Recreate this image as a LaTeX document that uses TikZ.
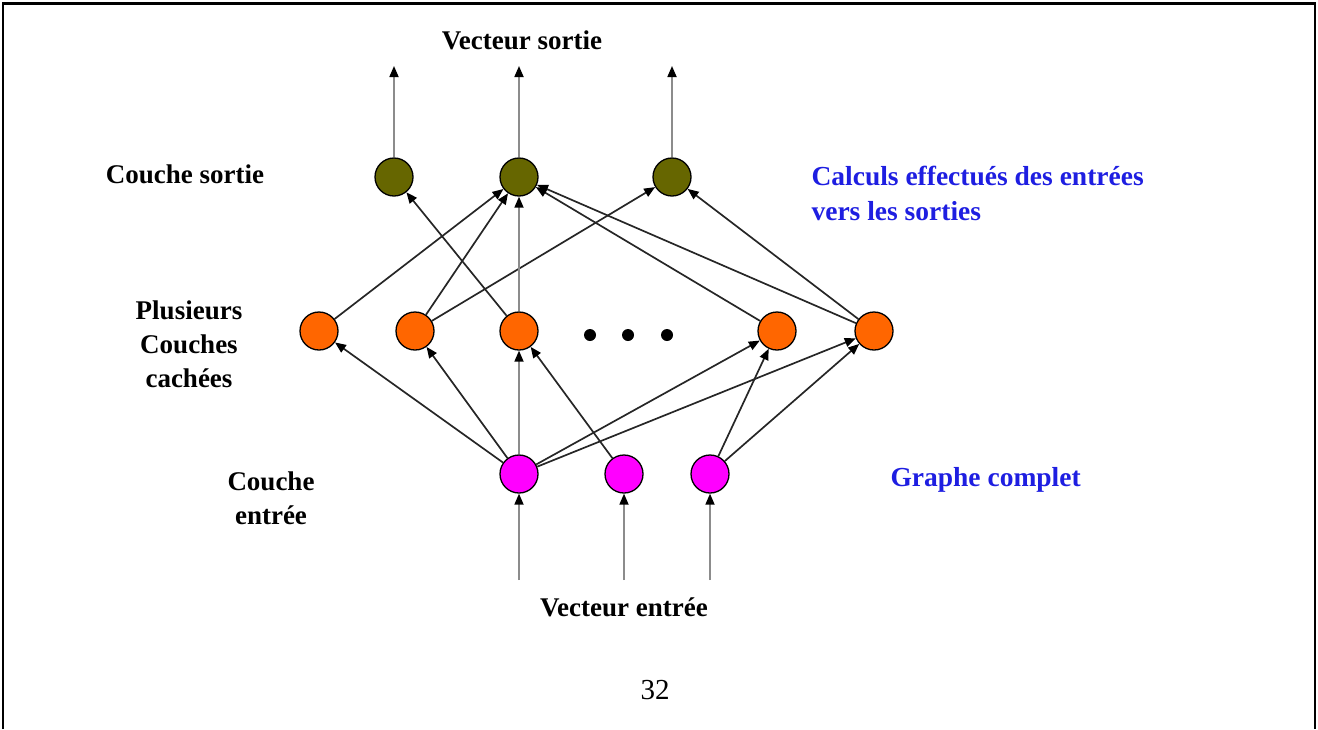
\documentclass[tikz,border=0pt]{standalone}
\usepackage{fontspec}
\setmainfont{Liberation Serif}
\usetikzlibrary{arrows.meta}
\definecolor{olivec}{RGB}{102,102,0}
\definecolor{orangec}{RGB}{255,102,0}
\definecolor{magc}{RGB}{255,0,255}
\definecolor{bluec}{RGB}{30,30,225}
\begin{document}
\begin{tikzpicture}[x=1pt,y=-1pt,
  neuron/.style={circle, draw=black, line width=1.3pt, minimum size=38pt, inner sep=0pt},
  outn/.style={neuron, fill=olivec},
  hidn/.style={neuron, fill=orangec},
  inn/.style={neuron, fill=magc},
  dotn/.style={circle, fill=black, minimum size=12pt, inner sep=0pt},
  conn/.style={line width=1.7pt, black!85, -{Triangle[length=11pt,width=9pt,color=black]}},
  vconn/.style={line width=1.7pt, black!45, -{Triangle[length=11pt,width=9pt,color=black]}},
  lab/.style={font=\fontsize{27}{34}\selectfont\bfseries, align=center},
  blab/.style={font=\fontsize{27.5}{35}\selectfont\bfseries, text=bluec, align=left, anchor=west}]
\useasboundingbox (0,0) rectangle (1318,729);
% frame
\draw[line width=2pt] (3,729) -- (3,3) -- (1315,3) -- (1315,729);
\draw[line width=3pt] (2,3) -- (1316,3);
% output layer
\node[outn] (o1) at (394,177) {};
\node[outn] (o2) at (519,177) {};
\node[outn] (o3) at (672,177) {};
% hidden layer
\node[hidn] (h1) at (319,331) {};
\node[hidn] (h2) at (415,331) {};
\node[hidn] (h3) at (519,331) {};
\node[hidn] (h4) at (777,331) {};
\node[hidn] (h5) at (874,331) {};
\node[dotn] (d1) at (590,335) {};
\node[dotn] (d2) at (628,335) {};
\node[dotn] (d3) at (667,335) {};
% input layer
\node[inn] (i1) at (519,474) {};
\node[inn] (i2) at (624,474) {};
\node[inn] (i3) at (710,474) {};
% free ends
\coordinate (t1) at (394,66);
\coordinate (t2) at (519,66);
\coordinate (t3) at (672,66);
\coordinate (b1) at (519,580);
\coordinate (b2) at (624,580);
\coordinate (b3) at (710,580);
% output arrows
\draw[vconn] (o1) -- (t1);
\draw[vconn] (o2) -- (t2);
\draw[vconn] (o3) -- (t3);
% input arrows
\draw[vconn] (b1) -- (i1);
\draw[vconn] (b2) -- (i2);
\draw[vconn] (b3) -- (i3);
% hidden -> output
\draw[conn] (h1) -- (o2);
\draw[conn] (h2) -- (o2);
\draw[conn] (h2) -- (o3);
\draw[conn] (h3) -- (o1);
\draw[vconn] (h3) -- (o2);
\draw[conn] (h4) -- (o2);
\draw[conn] (h5) -- (o2);
\draw[conn] (h5) -- (o3);
% input -> hidden
\draw[conn] (i1) -- (h1);
\draw[conn] (i1) -- (h2);
\draw[vconn] (i1) -- (h3);
\draw[conn] (i1) -- (h4);
\draw[conn] (i1) -- (h5);
\draw[conn] (i2) -- (h3);
\draw[conn] (i3) -- (h4);
\draw[conn] (i3) -- (h5);
% labels
\node[lab] (lvs) at (522,40) {Vecteur sortie};
\node[lab] (lcs) at (185,174) {Couche sortie};
\node[lab] (lcc) at (189,344) {Plusieurs\\Couches\\cachées};
\node[lab] (lce) at (271,498) {Couche\\entrée};
\node[lab] (lve) at (624,607) {Vecteur entrée};
\node[blab] (lcalc) at (808,193) {Calculs effectués des entrées\\vers les sorties};
\node[blab] (lgc) at (887,480) {Graphe complet};
\node[font=\fontsize{29}{34}\selectfont] (pg) at (655,690) {32};
\end{tikzpicture}
\end{document}
